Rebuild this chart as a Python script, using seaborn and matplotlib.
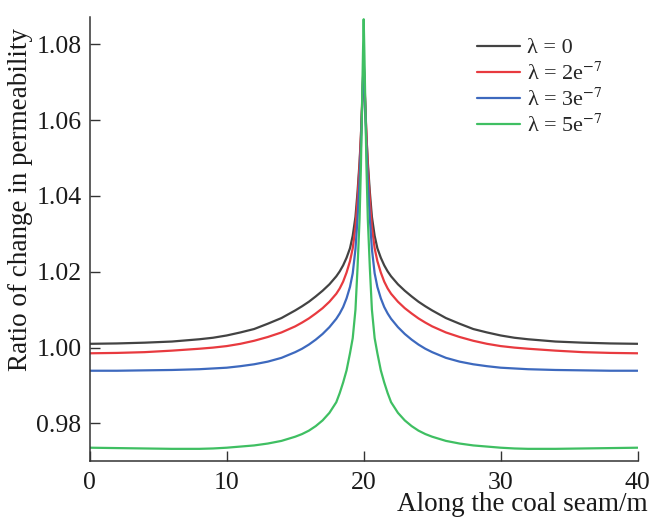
import numpy as np
import pandas as pd
import matplotlib
matplotlib.use("Agg")
import matplotlib.pyplot as plt
import seaborn as sns

# ---- data ----
x = [0, 2, 4, 6, 8, 9, 10, 11, 12, 13, 14, 15, 15.5, 16, 16.5, 17, 17.5, 18, 18.25, 18.5, 18.75,
     19, 19.2, 19.4, 19.55, 19.7, 19.8, 19.9, 19.95,
     20,
     20.05, 20.1, 20.2, 20.3, 20.45, 20.6, 20.8, 21, 21.25, 21.5, 21.75, 22, 22.5, 23, 23.5, 24, 24.5,
     25, 26, 27, 28, 29, 30, 31, 32, 34, 36, 38, 40]

lam0 = [1.0010, 1.0011, 1.0013, 1.0016, 1.0022, 1.0026, 1.0032, 1.0040, 1.0049, 1.0063, 1.0078,
        1.0098, 1.0109, 1.0121, 1.0135, 1.0150, 1.0167, 1.0188, 1.0201, 1.0217, 1.0237,
        1.0262, 1.0295, 1.0345, 1.0410, 1.0490, 1.0560, 1.0650, 1.0700,
        1.0740,
        1.0700, 1.0650, 1.0560, 1.0490, 1.0410, 1.0345, 1.0295, 1.0262, 1.0237, 1.0217, 1.0201,
        1.0188, 1.0167, 1.0150, 1.0135, 1.0121, 1.0109, 1.0098, 1.0078, 1.0063, 1.0049, 1.0040,
        1.0032, 1.0026, 1.0022, 1.0016, 1.0013, 1.0011, 1.0010]

lam2 = [0.9985, 0.9986, 0.9988, 0.9992, 0.9997, 1.0000, 1.0004, 1.0010, 1.0018, 1.0028, 1.0040,
        1.0056, 1.0066, 1.0077, 1.0090, 1.0104, 1.0121, 1.0142, 1.0156, 1.0174, 1.0198,
        1.0228, 1.0262, 1.0318, 1.0390, 1.0480, 1.0560, 1.0660, 1.0710,
        1.0750,
        1.0710, 1.0660, 1.0560, 1.0480, 1.0390, 1.0318, 1.0262, 1.0228, 1.0198, 1.0174, 1.0156,
        1.0142, 1.0121, 1.0104, 1.0090, 1.0077, 1.0066, 1.0056, 1.0040, 1.0028, 1.0018, 1.0010,
        1.0004, 1.0000, 0.9997, 0.9992, 0.9988, 0.9986, 0.9985]

lam3 = [0.9939, 0.9939, 0.9940, 0.9941, 0.9943, 0.9945, 0.9947, 0.9951, 0.9956, 0.9963, 0.9973,
        0.9988, 0.9997, 1.0008, 1.0021, 1.0036, 1.0054, 1.0076, 1.0090, 1.0107, 1.0130,
        1.0160, 1.0196, 1.0260, 1.0340, 1.0440, 1.0530, 1.0650, 1.0710,
        1.0760,
        1.0710, 1.0650, 1.0530, 1.0440, 1.0340, 1.0260, 1.0196, 1.0160, 1.0130, 1.0107, 1.0090,
        1.0076, 1.0054, 1.0036, 1.0021, 1.0008, 0.9997, 0.9988, 0.9973, 0.9963, 0.9956, 0.9951,
        0.9947, 0.9945, 0.9943, 0.9941, 0.9940, 0.9939, 0.9939]

lam5 = [0.9736, 0.9735, 0.9734, 0.9733, 0.9733, 0.9734, 0.9736, 0.9739, 0.9742, 0.9747, 0.9754,
        0.9765, 0.9772, 0.9781, 0.9793, 0.9808, 0.9828, 0.9856, 0.9880, 0.9908, 0.9940,
        0.9985, 1.0025, 1.0100, 1.0210, 1.0340, 1.0480, 1.0680, 1.0780,
        1.0866,
        1.0780, 1.0680, 1.0480, 1.0340, 1.0210, 1.0100, 1.0025, 0.9985, 0.9940, 0.9908, 0.9880,
        0.9856, 0.9828, 0.9808, 0.9793, 0.9781, 0.9772, 0.9765, 0.9754, 0.9747, 0.9742, 0.9739,
        0.9736, 0.9734, 0.9733, 0.9733, 0.9734, 0.9735, 0.9736]

series_labels = ["λ = 0", "λ = 2e$^{-7}$", "λ = 3e$^{-7}$", "λ = 5e$^{-7}$"]
colors = ["#434343", "#e83a3f", "#3d69be", "#3fbf62"]

xticks = [0, 10, 20, 30, 40]
yticks = [0.98, 1.00, 1.02, 1.04, 1.06, 1.08]

# ---- build long-form table ----
frames = []
for lab, vals in zip(series_labels, [lam0, lam2, lam3, lam5]):
    frames.append(pd.DataFrame({"x": x, "y": vals, "series": lab}))
df = pd.concat(frames, ignore_index=True)

sns.set_style("ticks")
plt.rcParams["font.family"] = ["Liberation Serif", "DejaVu Serif"]
plt.rcParams["mathtext.fontset"] = "stix"

fig = plt.figure(figsize=(6.52, 5.22), dpi=100)
ax = fig.add_axes([0.1376, 0.1169, 0.8404, 0.8506])

sns.lineplot(data=df, x="x", y="y", hue="series", hue_order=series_labels,
             palette=colors, linewidth=1.6, sort=False, estimator=None, ax=ax)

ax.set_xlim(0, 40)
ax.set_ylim(0.9701, 1.0872)
ax.set_xticks(xticks)
ax.set_xticklabels([str(t) for t in xticks])
ax.set_yticks(yticks)
ax.set_yticklabels([f"{t:.2f}" for t in yticks])

for s in ["top", "right"]:
    ax.spines[s].set_visible(False)
for s in ["left", "bottom"]:
    ax.spines[s].set_color("#333333")
    ax.spines[s].set_linewidth(1.1)

ax.tick_params(axis="both", direction="in", length=7, width=1.0, colors="#333333",
               labelsize=18.5, labelcolor="#1a1a1a")
ax.tick_params(axis="x", pad=8)
ax.tick_params(axis="y", pad=6)

ax.set_xlabel("Along the coal seam/m", fontsize=19.5, color="#1a1a1a")
ax.xaxis.set_label_coords(1.019, -0.113)
ax.xaxis.label.set_horizontalalignment("right")
ax.xaxis.label.set_verticalalignment("baseline")
ax.set_ylabel("Ratio of change in permeability", fontsize=19.5, color="#1a1a1a")
ax.yaxis.set_label_coords(-0.103, 0.588)

leg = ax.legend(loc="upper left", bbox_to_anchor=(0.707, 0.953), frameon=False,
                borderaxespad=0, borderpad=0,
                fontsize=16, handlelength=1.95, handletextpad=0.3, labelspacing=0.17)

fig.savefig("out.png", dpi=100)
